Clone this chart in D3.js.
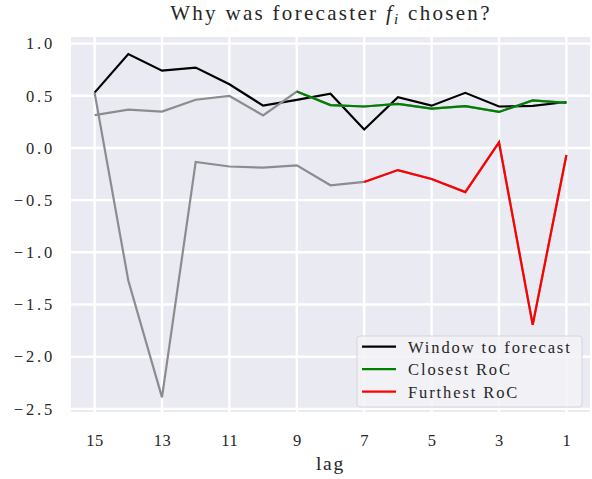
<!DOCTYPE html>
<html>
<head>
<meta charset="utf-8">
<script src="https://cdn.jsdelivr.net/npm/d3@7"></script>
<style>
  body { margin: 0; background: #fff; }
  svg text { font-family: "Liberation Serif", "DejaVu Serif", serif; fill: #262626; }
</style>
</head>
<body>
<svg id="chart" width="592" height="479"></svg>
<script>
// lags go from 15 down to 1
const lags = [15, 14, 13, 12, 11, 10, 9, 8, 7, 6, 5, 4, 3, 2, 1];
const windowVals = [0.53, 0.90, 0.74, 0.77, 0.61, 0.405, 0.46, 0.52, 0.177, 0.487, 0.405, 0.528, 0.397, 0.403, 0.44];
const closestVals = [0.315, 0.367, 0.348, 0.462, 0.498, 0.312, 0.54, 0.411, 0.397, 0.422, 0.377, 0.401, 0.345, 0.456, 0.431];
const furthestVals = [0.53, -1.27, -2.39, -0.134, -0.178, -0.188, -0.167, -0.358, -0.326, -0.212, -0.297, -0.423, 0.054, -1.695, -0.068];
const closestFrom = 9;   // lag where the closest RoC window starts
const furthestFrom = 7;  // lag where the furthest RoC window starts
const xTicks = [15, 13, 11, 9, 7, 5, 3, 1];
const yTicks = [-2.5, -2.0, -1.5, -1.0, -0.5, 0.0, 0.5, 1.0];
const legendNames = ["Window to forecast", "Closest RoC", "Furthest RoC"];
const legendColors = ["#000000", "#008000", "#ff0000"];

const svg = d3.select("#chart");
const margin = { top: 37, right: 2, bottom: 67, left: 71 };
const width = 592 - margin.left - margin.right;
const height = 479 - margin.top - margin.bottom;

const x = d3.scaleLinear().domain([15.7, 0.3]).range([0, width]);
const y = d3.scaleLinear().domain([-2.53, 1.063]).range([height, 0]);

const g = svg.append("g").attr("transform", `translate(${margin.left},${margin.top})`);

g.append("rect").attr("width", width).attr("height", height).attr("fill", "#eaeaf2");

// grid
g.selectAll(".vgrid").data(xTicks).enter().append("line")
  .attr("x1", d => x(d)).attr("x2", d => x(d))
  .attr("y1", 0).attr("y2", height)
  .attr("stroke", "#fff").attr("stroke-width", 2.4);
g.selectAll(".hgrid").data(yTicks).enter().append("line")
  .attr("y1", d => y(d)).attr("y2", d => y(d))
  .attr("x1", 0).attr("x2", width)
  .attr("stroke", "#fff").attr("stroke-width", 2.4);

// axes (ticks only, no domain line)
const fmt = d => d3.format(".1f")(d).replace("-", "\u2212");
const xAxis = g.append("g").attr("transform", `translate(0,${height})`)
  .call(d3.axisBottom(x).tickValues(xTicks).tickSize(0).tickFormat(d3.format("d")));
const yAxis = g.append("g")
  .call(d3.axisLeft(y).tickValues(yTicks).tickSize(0).tickPadding(16).tickFormat(fmt));
[xAxis, yAxis].forEach(a => {
  a.select(".domain").remove();
  a.selectAll("text").attr("font-family", null).attr("font-size", 16.5).attr("fill", "#262626");
});
xAxis.selectAll("text").attr("y", 34).attr("dy", 0).attr("letter-spacing", 0.6);
yAxis.selectAll("text").attr("letter-spacing", 2.8);

const line = d3.line().x(d => x(d[0])).y(d => y(d[1]));
const pts = vals => lags.map((l, i) => [l, vals[i]]);

g.append("path").attr("d", line(pts(windowVals)))
  .attr("fill", "none").attr("stroke", "#000").attr("stroke-width", 2.2);
g.append("path").attr("d", line(pts(closestVals)))
  .attr("fill", "none").attr("stroke", "#8c8c90").attr("stroke-width", 2.2);
g.append("path").attr("d", line(pts(furthestVals)))
  .attr("fill", "none").attr("stroke", "#8c8c90").attr("stroke-width", 2.2);
g.append("path").attr("d", line(pts(closestVals).filter(d => d[0] <= closestFrom)))
  .attr("fill", "none").attr("stroke", legendColors[1]).attr("stroke-width", 2.2);
g.append("path").attr("d", line(pts(furthestVals).filter(d => d[0] <= furthestFrom)))
  .attr("fill", "none").attr("stroke", legendColors[2]).attr("stroke-width", 2.2);

// legend
const lg = svg.append("g").attr("transform", "translate(357,336)");
lg.append("rect").attr("width", 225).attr("height", 71).attr("rx", 3)
  .attr("fill", "#f3f3f7").attr("fill-opacity", 0.85).attr("stroke", "#d4d4da").attr("stroke-width", 1);
legendNames.forEach((name, i) => {
  const yy = 10.7 + i * 22.5;
  lg.append("line").attr("x1", 5).attr("x2", 39).attr("y1", yy).attr("y2", yy)
    .attr("stroke", legendColors[i]).attr("stroke-width", 2.2);
  lg.append("text").attr("x", 51).attr("y", yy + 6)
    .attr("font-size", 16.5).attr("letter-spacing", 1.9).text(name);
});

// title
const title = svg.append("text").attr("x", 331).attr("y", 20)
  .attr("text-anchor", "middle").attr("font-size", 21).attr("letter-spacing", 2.3);
title.append("tspan").text("Why was forecaster ");
title.append("tspan").attr("font-style", "italic").text("f");
title.append("tspan").attr("font-style", "italic").attr("font-size", 15).attr("dy", 4).text("i");
title.append("tspan").attr("dy", -4).text(" chosen?");

// x label
svg.append("text").attr("x", margin.left + width / 2).attr("y", 470)
  .attr("text-anchor", "middle").attr("font-size", 19.5).attr("letter-spacing", 1.8).text("lag");
</script>
</body>
</html>
